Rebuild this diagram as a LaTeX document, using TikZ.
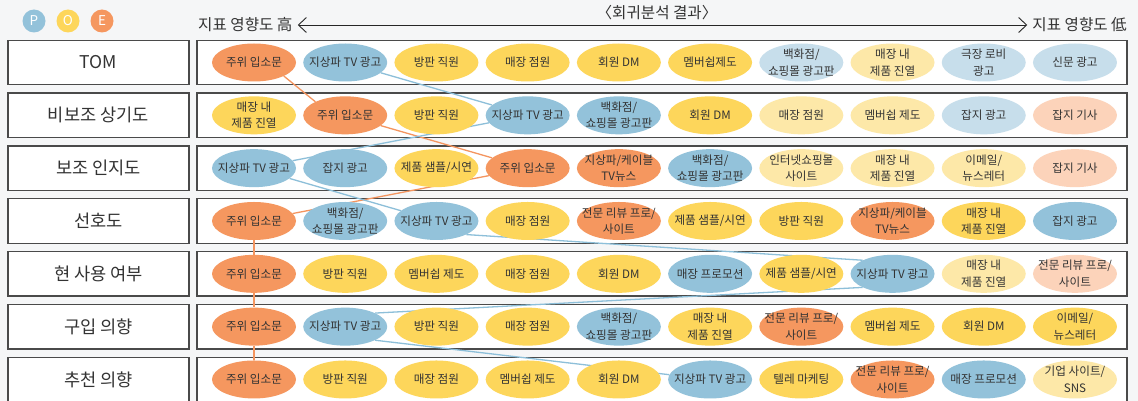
\documentclass[tikz,border=0pt]{standalone}
\usepackage{fontspec}
\setmainfont{Noto Sans CJK KR}
\usetikzlibrary{arrows.meta,shapes.geometric}
\definecolor{bgc}{HTML}{F5F6F7}
\definecolor{boxc}{HTML}{4A4A4A}
\definecolor{txt}{HTML}{333333}
\definecolor{org}{HTML}{F5975F}
\definecolor{yel}{HTML}{FDD65B}
\definecolor{blu}{HTML}{93C2DA}
\definecolor{lblu}{HTML}{C7DEEB}
\definecolor{lyel}{HTML}{FDE8A8}
\definecolor{pch}{HTML}{FCD3BA}
\definecolor{olc}{HTML}{F4955F}
\definecolor{blc}{HTML}{8DBFD9}
\pgfdeclarelayer{bg}
\pgfdeclarelayer{ln}
\pgfsetlayers{bg,ln,main}
\tikzset{
  bub/.style={ellipse, minimum width=84pt, minimum height=38pt, inner sep=0pt, draw=none},
  bubtxt/.style={align=center, inner sep=0pt, text=txt, font=\fontsize{11.6}{16.5}\selectfont},
  lbox/.style={draw=boxc, line width=1.3pt, fill=white, minimum width=181pt, minimum height=44.5pt, inner sep=0pt, text=txt, font=\fontsize{17.6}{20}\selectfont},
  rbox/.style={draw=boxc, line width=1.3pt, fill=white, minimum width=930pt, minimum height=44.5pt, inner sep=0pt},
  oline/.style={draw=olc, line width=1.3pt},
  bline/.style={draw=blc, line width=1.3pt},
  fo/.style={fill=org}, fy/.style={fill=yel}, fb/.style={fill=blu},
  flb/.style={fill=lblu}, fly/.style={fill=lyel}, fp/.style={fill=pch},
  poe/.style={circle, minimum size=23pt, inner sep=0pt, text=white, font=\fontsize{13.5}{15}\selectfont},
  hdr/.style={text=txt, inner ysep=2pt, inner xsep=5pt, font=\fontsize{15.6}{18}\selectfont},
  hdrarrow/.style={draw=black!85, line width=0.9pt, arrows={Straight Barb[length=8pt,width=15pt]-Straight Barb[length=8pt,width=15pt]}}
}
\newcommand\bub[4]{%
  \node[bub,#3] (r#1c#2) at ({254+(#2-1)*91.22},{62.5+(#1-1)*52.83}) {};
  \node[bubtxt] (t#1c#2) at (r#1c#2.center) {#4};
}
\begin{document}
\begin{tikzpicture}[x=1pt,y=-1pt]
\useasboundingbox (0,0) rectangle (1138,401);
\clip (0,0) rectangle (1138,401);
\begin{pgfonlayer}{bg}
\fill[bgc] (0,0) rectangle (1138,401);
\node[lbox] (L1) at (98.5,62.5) {TOM};
\node[lbox] (L2) at (98.5,115.33) {비보조 상기도};
\node[lbox] (L3) at (98.5,168.16) {보조 인지도};
\node[lbox] (L4) at (98.5,220.99) {선호도};
\node[lbox] (L5) at (98.5,273.82) {현 사용 여부};
\node[lbox] (L6) at (98.5,326.65) {구입 의향};
\node[lbox] (L7) at (98.5,379.48) {추천 의향};
\node[rbox] (R1) at (662,62.5) {};
\node[rbox] (R2) at (662,115.33) {};
\node[rbox] (R3) at (662,168.16) {};
\node[rbox] (R4) at (662,220.99) {};
\node[rbox] (R5) at (662,273.82) {};
\node[rbox] (R6) at (662,326.65) {};
\node[rbox] (R7) at (662,379.48) {};
\end{pgfonlayer}

% header
\node[poe, fill=blu] (P) at (34,21) {P};
\node[poe, fill=yel] (O) at (68,21) {O};
\node[poe, fill=org] (E) at (102,21) {E};
\node[hdr, anchor=west] (hi) at (193,25) {지표 영향도 高};
\node[hdr, anchor=east] (lo) at (1132,25) {지표 영향도 低};
\node[hdr] (title) at (657,13) {〈회귀분석 결과〉};
\draw[hdrarrow] (hi.east) -- (lo.west);

% row 1 TOM
\bub{1}{1}{fo}{주위 입소문}
\bub{1}{2}{fb}{지상파 TV 광고}
\bub{1}{3}{fy}{방판 직원}
\bub{1}{4}{fy}{매장 점원}
\bub{1}{5}{fy}{회원 DM}
\bub{1}{6}{fy}{멤버쉽제도}
\bub{1}{7}{flb}{백화점/\\쇼핑몰 광고판}
\bub{1}{8}{fly}{매장 내\\제품 진열}
\bub{1}{9}{flb}{극장 로비\\광고}
\bub{1}{10}{flb}{신문 광고}
% row 2
\bub{2}{1}{fy}{매장 내\\제품 진열}
\bub{2}{2}{fo}{주위 입소문}
\bub{2}{3}{fy}{방판 직원}
\bub{2}{4}{fb}{지상파 TV 광고}
\bub{2}{5}{fb}{백화점/\\쇼핑몰 광고판}
\bub{2}{6}{fy}{회원 DM}
\bub{2}{7}{fly}{매장 점원}
\bub{2}{8}{fly}{멤버쉽 제도}
\bub{2}{9}{flb}{잡지 광고}
\bub{2}{10}{fp}{잡지 기사}
% row 3
\bub{3}{1}{fb}{지상파 TV 광고}
\bub{3}{2}{fb}{잡지 광고}
\bub{3}{3}{fy}{제품 샘플/시연}
\bub{3}{4}{fo}{주위 입소문}
\bub{3}{5}{fo}{지상파/케이블\\TV뉴스}
\bub{3}{6}{fb}{백화점/\\쇼핑몰 광고판}
\bub{3}{7}{fly}{인터넷쇼핑몰\\사이트}
\bub{3}{8}{fly}{매장 내\\제품 진열}
\bub{3}{9}{fly}{이메일/\\뉴스레터}
\bub{3}{10}{fp}{잡지 기사}
% row 4
\bub{4}{1}{fo}{주위 입소문}
\bub{4}{2}{fb}{백화점/\\쇼핑몰 광고판}
\bub{4}{3}{fb}{지상파 TV 광고}
\bub{4}{4}{fy}{매장 점원}
\bub{4}{5}{fo}{전문 리뷰 프로/\\사이트}
\bub{4}{6}{fy}{제품 샘플/시연}
\bub{4}{7}{fy}{방판 직원}
\bub{4}{8}{fo}{지상파/케이블\\TV뉴스}
\bub{4}{9}{fy}{매장 내\\제품 진열}
\bub{4}{10}{fb}{잡지 광고}
% row 5
\bub{5}{1}{fo}{주위 입소문}
\bub{5}{2}{fy}{방판 직원}
\bub{5}{3}{fy}{멤버쉽 제도}
\bub{5}{4}{fy}{매장 점원}
\bub{5}{5}{fy}{회원 DM}
\bub{5}{6}{fb}{매장 프로모션}
\bub{5}{7}{fy}{제품 샘플/시연}
\bub{5}{8}{fb}{지상파 TV 광고}
\bub{5}{9}{fly}{매장 내\\제품 진열}
\bub{5}{10}{fp}{전문 리뷰 프로/\\사이트}
% row 6
\bub{6}{1}{fo}{주위 입소문}
\bub{6}{2}{fb}{지상파 TV 광고}
\bub{6}{3}{fy}{방판 직원}
\bub{6}{4}{fy}{매장 점원}
\bub{6}{5}{fb}{백화점/\\쇼핑몰 광고판}
\bub{6}{6}{fy}{매장 내\\제품 진열}
\bub{6}{7}{fo}{전문 리뷰 프로/\\사이트}
\bub{6}{8}{fy}{멤버쉽 제도}
\bub{6}{9}{fy}{회원 DM}
\bub{6}{10}{fy}{이메일/\\뉴스레터}
% row 7
\bub{7}{1}{fo}{주위 입소문}
\bub{7}{2}{fy}{방판 직원}
\bub{7}{3}{fy}{매장 점원}
\bub{7}{4}{fy}{멤버쉽 제도}
\bub{7}{5}{fy}{회원 DM}
\bub{7}{6}{fb}{지상파 TV 광고}
\bub{7}{7}{fy}{텔레 마케팅}
\bub{7}{8}{fo}{전문 리뷰 프로/\\사이트}
\bub{7}{9}{fb}{매장 프로모션}
\bub{7}{10}{fly}{기업 사이트/\\SNS}

\begin{pgfonlayer}{ln}
\draw[oline] (r1c1.south east) -- (r2c2.north west);
\draw[oline] (r2c2) -- (r3c4);
\draw[oline] (r3c4) -- (r4c1);
\draw[oline] (r4c1) -- (r5c1);
\draw[oline] (r5c1) -- (r6c1);
\draw[oline] (r6c1) -- (r7c1);
\draw[bline] (r1c2) -- (r2c4);
\draw[bline] (r2c4) -- (r3c1);
\draw[bline] (r3c1) -- (r4c3);
\draw[bline] (r4c3.south east) -- (r5c8.north west);
\draw[bline] (r5c8.south west) -- (r6c2.north east);
\draw[bline] (r6c2.south east) -- (r7c6);
\end{pgfonlayer}
\end{tikzpicture}
\end{document}
